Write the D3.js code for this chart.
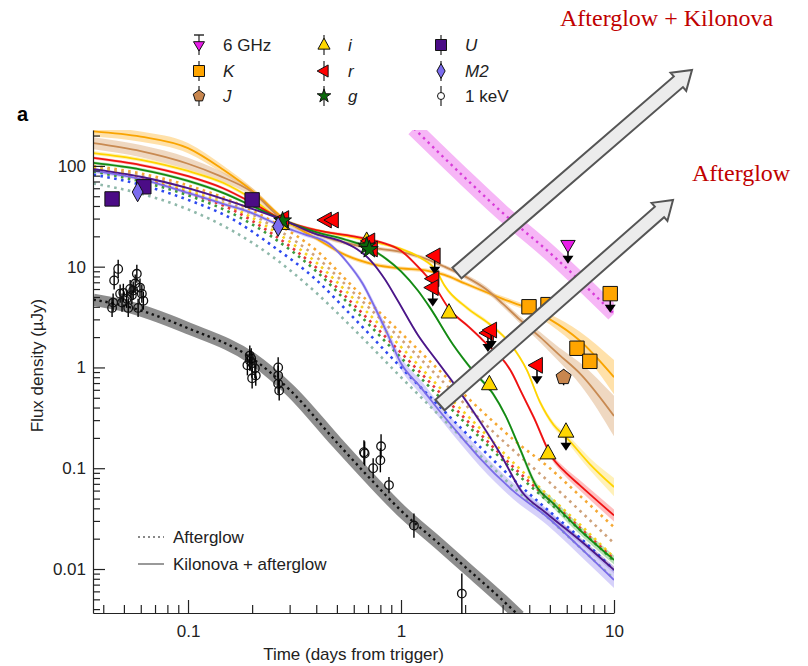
<!DOCTYPE html>
<html lang="en">
<head>
<meta charset="utf-8">
<title>Kilonova + afterglow light curves</title>
<script src="https://cdn.jsdelivr.net/npm/d3@7"></script>
<style>
  body { margin: 0; background: #fff; }
  svg { display: block; font-family: "Liberation Sans", Arial, Helvetica, sans-serif; }
  .axis path, .axis line { stroke: #222; stroke-width: 1.2px; }
  .axis text { font-size: 17px; fill: #222; font-family: "Liberation Sans", Arial, sans-serif; }
  .note { font-family: "Liberation Serif", "Times New Roman", serif; fill: #c00000; font-size: 24px; }
  .lg { font-size: 17px; fill: #222; }
</style>
</head>
<body>
<script>
// ---------- DATA ----------
// model curves: [time (days), flux (uJy), half band width (dex)]
const modelK = [[0.036,220,0.05],[0.06,195,0.05],[0.1,150,0.05],[0.146,92,0.04],[0.21,52,0.03],[0.28,30,0.02],[0.4,19,0.02],[0.55,13,0.02],[0.75,10.5,0.02],[1,9.6,0.02],[1.3,9.2,0.02],[1.6,8.3,0.02],[2,6.8,0.02],[2.5,5.6,0.02],[3,4.8,0.025],[3.9,3.9,0.03],[5,3.0,0.05],[6.9,1.85,0.09],[10,0.8,0.17]];
const modelJ = [[0.036,168,0.06],[0.06,140,0.06],[0.1,105,0.06],[0.14,80,0.05],[0.2,55,0.04],[0.28,29,0.03],[0.4,21,0.02],[0.6,16.5,0.02],[0.8,15,0.02],[1,14,0.02],[1.3,12,0.02],[1.6,10,0.02],[2,8,0.025],[2.5,6,0.03],[3,4.3,0.03],[3.6,3.0,0.035],[4.5,2.0,0.05],[5.5,1.35,0.07],[7,0.85,0.11],[10,0.33,0.2]];
const modelI = [[0.036,134,0.02],[0.06,115,0.02],[0.1,89,0.02],[0.146,68,0.02],[0.2,47,0.02],[0.28,28,0.02],[0.4,23,0.015],[0.6,19.5,0.015],[0.8,17,0.015],[1,15,0.015],[1.23,12.3,0.015],[1.47,9,0.02],[1.6,6.5,0.02],[2.04,3.9,0.02],[2.6,2.7,0.02],[3.25,1.73,0.02],[3.9,0.94,0.02],[4.5,0.45,0.025],[5.2,0.27,0.03],[6,0.2,0.04],[7.7,0.11,0.06],[10,0.065,0.09]];
const modelR = [[0.036,120,0.015],[0.06,102,0.015],[0.1,79,0.015],[0.146,60,0.015],[0.2,43,0.015],[0.28,29,0.015],[0.4,23,0.015],[0.6,20,0.015],[0.8,17.5,0.015],[1,14.4,0.015],[1.2,10,0.015],[1.41,6.8,0.015],[1.7,3.7,0.015],[2.05,2.6,0.015],[2.43,1.85,0.015],[3.3,0.9,0.02],[3.7,0.55,0.02],[4.2,0.32,0.025],[5.1,0.13,0.03],[5.8,0.095,0.04],[6.9,0.068,0.05],[10,0.034,0.06]];
const modelG = [[0.036,107,0.015],[0.06,92,0.015],[0.1,71,0.015],[0.146,54,0.015],[0.2,40,0.015],[0.28,29,0.015],[0.4,22,0.015],[0.55,18.5,0.015],[0.7,15.5,0.015],[0.85,12,0.015],[1,9,0.015],[1.2,5.8,0.015],[1.37,3.9,0.015],[1.75,1.7,0.015],[2.2,0.9,0.02],[2.7,0.55,0.02],[3.1,0.33,0.02],[3.6,0.16,0.03],[4.34,0.065,0.04],[5.17,0.045,0.045],[6.9,0.0245,0.045],[10,0.0123,0.045]];
const modelU = [[0.036,93,0.01],[0.06,78,0.01],[0.1,60,0.01],[0.146,47,0.01],[0.2,37.5,0.01],[0.28,29,0.01],[0.4,21,0.01],[0.52,18,0.01],[0.62,15,0.01],[0.72,11.5,0.01],[0.84,7.5,0.01],[0.96,4.7,0.01],[1.2,2.1,0.015],[1.47,1.17,0.015],[1.83,0.63,0.02],[2.35,0.29,0.02],[2.92,0.14,0.02],[3.7,0.058,0.025],[4.8,0.036,0.03],[6.9,0.0194,0.03],[10,0.0098,0.035]];
const modelM2 = [[0.036,89,0.02],[0.06,74,0.02],[0.1,54,0.02],[0.146,42,0.02],[0.2,34,0.02],[0.265,26,0.02],[0.35,21,0.02],[0.46,16.9,0.02],[0.56,11,0.02],[0.66,6.8,0.03],[0.76,3.8,0.04],[0.86,2.2,0.05],[1,1.1,0.06],[1.25,0.62,0.07],[1.5,0.38,0.07],[2,0.185,0.08],[2.35,0.125,0.08],[3.35,0.06,0.08],[4.84,0.033,0.08],[6.9,0.0165,0.08],[10,0.0078,0.08]];

// afterglow-only models (dotted), shared time grid
const aftTimes = [0.036, 0.06, 0.1, 0.16, 0.25, 0.4, 0.6, 1, 1.5, 2.3, 3.5, 5, 7, 10];
const aftK  = [100, 84, 64, 45, 28, 14.5, 6.2, 2.2, 0.95, 0.40, 0.18, 0.1, 0.052, 0.026];
const aftJ  = [97, 80, 60, 42, 25, 12.5, 5.5, 1.9, 0.8, 0.32, 0.14, 0.072, 0.037, 0.018];
const aftI  = [95, 77, 57, 39, 23, 11, 4.8, 1.6, 0.65, 0.26, 0.105, 0.052, 0.027, 0.013];
const aftR  = [92, 74, 54, 37, 21, 9.8, 4.2, 1.4, 0.58, 0.23, 0.095, 0.048, 0.025, 0.0125];
const aftG  = [88, 70, 51, 34, 19.5, 9, 3.8, 1.25, 0.52, 0.21, 0.088, 0.045, 0.024, 0.012];
const aftU  = [82, 65, 46, 30, 16, 7.4, 3.1, 1.0, 0.42, 0.17, 0.072, 0.037, 0.02, 0.0098];
const aftM2 = [67, 53, 37, 23, 12.5, 5.5, 2.4, 0.8, 0.34, 0.14, 0.06, 0.031, 0.016, 0.008];

// X-ray and radio afterglow models
const xrayModel  = [[0.036,4.7],[0.05,4.1],[0.1,2.45],[0.2,1.23],[0.3,0.6],[0.5,0.18],[0.7,0.083],[1,0.038],[1.5,0.018],[2,0.0105],[3,0.0049],[3.6,0.0034]];
const radioModel = [[1.15,235],[2,76],[2.92,36],[5,13.7],[10,3.4]];

// observations: [time, flux, error (dex), upper limit]
const obsRadio = [[6.08,16.5,0,true]];
const obsK  = [[3.99,4.0,0,false],[4.9,4.2,0,false],[6.7,1.55,0.07,false],[7.7,1.15,0.07,false],[9.6,5.4,0,true]];
const obsJ  = [[5.8,0.8,0.08,false]];
const obsI  = [[0.275,26.5,0.03,false],[0.69,18,0,false],[1.68,3.5,0,false],[2.6,0.68,0.06,false],[4.9,0.14,0,false],[5.95,0.23,0,true]];
const obsR  = [[0.28,30,0,false],[0.444,29,0,false],[0.479,29,0,false],[0.71,18,0,false],[0.73,15,0,false],[1.44,12.8,0,true],[1.42,7.6,0,false],[1.41,6.2,0,true],[2.56,2.2,0,true],[2.65,2.35,0,true],[4.35,1.05,0,true]];
const obsG  = [[0.278,28.5,0,false],[0.69,16,0,false],[0.71,14.8,0,false]];
const obsU  = [[0.044,47,0,false],[0.062,62,0.03,false],[0.2,46,0,false]];
const obsM2 = [[0.058,55,0,false],[0.265,25,0,false]];
const obsX  = [[0.044,3.9,0.09],[0.045,7.3,0.09],[0.047,9.5,0.09],[0.0445,4.4,0.09],[0.048,5.4,0.09],[0.049,4.4,0.09],[0.0497,5.5,0.09],[0.0515,4.8,0.09],[0.0524,3.9,0.09],[0.0535,6.0,0.09],[0.0545,5.2,0.09],[0.0553,5.8,0.09],[0.0565,6.8,0.09],[0.0575,8.5,0.09],[0.0583,3.9,0.09],[0.0595,6.2,0.09],[0.0607,5.4,0.09],[0.0617,4.6,0.09],
  [0.195,1.31,0.1],[0.198,1.23,0.1],[0.19,1.05,0.1],[0.2,1.1,0.1],[0.206,0.98,0.1],[0.2,0.78,0.1],[0.208,0.83,0.1],[0.195,1.17,0.1],
  [0.265,1.0,0.1],[0.265,0.83,0.1],[0.265,0.69,0.1],[0.268,0.59,0.1],
  [0.67,0.144,0.12],[0.675,0.14,0.12],[0.74,0.1,0.1],[0.806,0.165,0.12],[0.8,0.12,0.12],[0.878,0.068,0.08],[1.15,0.027,0.12],[1.93,0.0057,0.2]];

// ticks
const xMajor = [0.1, 1, 10];
const xTickLabels = ["0.1", "1", "10"];
const yMajor = [0.01, 0.1, 1, 10, 100];
const yTickLabels = ["0.01", "0.1", "1", "10", "100"];

// ---------- LAYOUT ----------
const W = 808, H = 666;
const plot = {left: 93, right: 614, top: 130, bottom: 613};

const svg = d3.select("body").append("svg").attr("width", W).attr("height", H);

const x = d3.scaleLog().domain([0.0358, 10]).range([plot.left, plot.right]);
const y = d3.scaleLog().domain([0.00366, 227]).range([plot.bottom, plot.top]);

svg.append("defs").append("clipPath").attr("id", "clip")
   .append("rect").attr("x", plot.left).attr("y", plot.top)
   .attr("width", plot.right - plot.left).attr("height", plot.bottom - plot.top);

const line = d3.line().x(d => x(d[0])).y(d => y(d[1])).curve(d3.curveMonotoneX);
const band = d3.area().x(d => x(d[0]))
               .y0(d => y(d[1] / Math.pow(10, d[2])))
               .y1(d => y(d[1] * Math.pow(10, d[2])))
               .curve(d3.curveMonotoneX);

const models = [
  {data: modelK,  line: "#f9a400", fill: "#ffc864"},
  {data: modelJ,  line: "#c88a52", fill: "#e2b88e"},
  {data: modelI,  line: "#ffd400", fill: "#ffe680"},
  {data: modelR,  line: "#ee1111", fill: "#ff8a8a"},
  {data: modelG,  line: "#138a13", fill: "#80c880"},
  {data: modelU,  line: "#4b1689", fill: "#a089c8"},
  {data: modelM2, line: "#7a6be8", fill: "#b4abf5"}
];
const afterglows = [
  {vals: aftK,  color: "#f5a832"},
  {vals: aftJ,  color: "#cfa27a"},
  {vals: aftI,  color: "#f7d21e"},
  {vals: aftR,  color: "#e8373a"},
  {vals: aftG,  color: "#3d9a3d"},
  {vals: aftU,  color: "#2d49f0"},
  {vals: aftM2, color: "#8fb8aa"}
];

const g = svg.append("g").attr("clip-path", "url(#clip)");

// radio band + dotted
g.append("path").attr("d", line(radioModel)).attr("fill", "none")
 .attr("stroke", "#f6b6f6").attr("stroke-width", 16);
g.append("path").attr("d", line(radioModel)).attr("fill", "none")
 .attr("stroke", "#d83cd8").attr("stroke-width", 2.4).attr("stroke-dasharray", "2.4 4");

// model bands
g.selectAll("path.band").data(models).join("path").attr("class", "band")
 .attr("d", d => band(d.data)).attr("fill", d => d.fill).attr("opacity", 0.55);

// afterglow dotted
g.selectAll("path.aft").data(afterglows).join("path").attr("class", "aft")
 .attr("d", d => line(aftTimes.map((t, i) => [t, d.vals[i]])))
 .attr("fill", "none").attr("stroke", d => d.color)
 .attr("stroke-width", 2.6).attr("stroke-dasharray", "2.6 4.4");

// model solid lines
g.selectAll("path.model").data(models).join("path").attr("class", "model")
 .attr("d", d => line(d.data)).attr("fill", "none")
 .attr("stroke", d => d.line).attr("stroke-width", 1.8);

// X-ray band + dotted
g.append("path").attr("d", line(xrayModel)).attr("fill", "none")
 .attr("stroke", "#8d8d8d").attr("stroke-width", 12);
g.append("path").attr("d", line(xrayModel)).attr("fill", "none")
 .attr("stroke", "#111").attr("stroke-width", 2.4).attr("stroke-dasharray", "2.4 3.6");

// ---------- AXES ----------
function decadeTicks(lo, hi) {
  const out = [];
  for (let k = -3; k <= 2; k++) for (let m = 1; m <= 9; m++) {
    const v = +(m * Math.pow(10, k)).toPrecision(6);
    if (v >= lo && v <= hi) out.push(v);
  }
  return out;
}
const isMajor = v => Math.abs(Math.log10(v) - Math.round(Math.log10(v))) < 1e-9;

const xAxis = d3.axisBottom(x).tickValues(decadeTicks(0.0358, 10))
  .tickSizeInner(-13).tickSizeOuter(0).tickPadding(12)
  .tickFormat(d => { const i = xMajor.indexOf(d); return i >= 0 ? xTickLabels[i] : ""; });
const gx = svg.append("g").attr("class", "axis").attr("transform", `translate(0,${plot.bottom})`).call(xAxis);
gx.selectAll(".tick line").attr("y2", d => isMajor(d) ? -13 : -8);

const yAxis = d3.axisLeft(y).tickValues(decadeTicks(0.00366, 227))
  .tickSizeInner(-12).tickSizeOuter(0).tickPadding(7)
  .tickFormat(d => { const i = yMajor.indexOf(d); return i >= 0 ? yTickLabels[i] : ""; });
const gy = svg.append("g").attr("class", "axis").attr("transform", `translate(${plot.left},0)`).call(yAxis);
gy.selectAll(".tick line").attr("x2", d => isMajor(d) ? 12 : 7);
gy.selectAll(".tick text").attr("x", -7);

svg.append("text").attr("class", "lg")
   .attr("transform", `translate(43,${(plot.top + plot.bottom) / 2 - 6}) rotate(-90)`)
   .attr("text-anchor", "middle").text("Flux density (µJy)");
svg.append("text").attr("class", "lg")
   .attr("x", (plot.left + plot.right) / 2).attr("y", 660)
   .attr("text-anchor", "middle").text("Time (days from trigger)");

svg.append("text").attr("x", 17).attr("y", 121).attr("font-weight", "bold")
   .attr("font-size", 20).text("a");

// ---------- MARKERS ----------
function shape(kind, s) {
  const p = d3.path();
  const poly = pts => { pts.forEach((q, i) => i ? p.lineTo(q[0], q[1]) : p.moveTo(q[0], q[1])); p.closePath(); };
  if (kind === "square") poly([[-s, -s], [s, -s], [s, s], [-s, s]]);
  else if (kind === "up") poly([[0, -s * 1.25], [s * 1.1, s * 0.75], [-s * 1.1, s * 0.75]]);
  else if (kind === "down") poly([[0, s * 1.1], [s * 1.0, -s * 0.6], [-s * 1.0, -s * 0.6]]);
  else if (kind === "left") poly([[-s * 1.25, 0], [s * 0.75, -s * 1.1], [s * 0.75, s * 1.1]]);
  else if (kind === "diamond") poly([[0, -s * 1.35], [s * 0.75, 0], [0, s * 1.35], [-s * 0.75, 0]]);
  else if (kind === "pentagon") poly(d3.range(5).map(i => { const a = -Math.PI / 2 + i * 2 * Math.PI / 5; return [s * 1.1 * Math.cos(a), s * 1.1 * Math.sin(a)]; }));
  else if (kind === "star") poly(d3.range(10).map(i => { const a = -Math.PI / 2 + i * Math.PI / 5, r = i % 2 ? s * 0.5 : s * 1.3; return [r * Math.cos(a), r * Math.sin(a)]; }));
  else if (kind === "circle") { p.arc(0, 0, s, 0, 2 * Math.PI); }
  return p.toString();
}

const bands = [
  {key: "6 GHz", obs: obsRadio, kind: "down",     fill: "#e81ce8", italic: false},
  {key: "K",     obs: obsK,     kind: "square",   fill: "#ffa500", italic: true},
  {key: "J",     obs: obsJ,     kind: "pentagon", fill: "#c8864e", italic: true},
  {key: "i",     obs: obsI,     kind: "up",       fill: "#ffd700", italic: true},
  {key: "r",     obs: obsR,     kind: "left",     fill: "#ff0000", italic: true},
  {key: "g",     obs: obsG,     kind: "star",     fill: "#0a6a0a", italic: true},
  {key: "U",     obs: obsU,     kind: "square",   fill: "#4b0c86", italic: true},
  {key: "M2",    obs: obsM2,    kind: "diamond",  fill: "#7b6cee", italic: true},
  {key: "1 keV", obs: obsX,     kind: "circle",   fill: "none",    italic: false}
];

const mk = svg.append("g");
function upperLimit(sel, px, py) {
  sel.append("line").attr("x1", px).attr("x2", px).attr("y1", py).attr("y2", py + 13)
     .attr("stroke", "#000").attr("stroke-width", 1.5);
  sel.append("path").attr("d", `M${px - 5.5},${py + 11}L${px + 5.5},${py + 11}L${px},${py + 19}Z`).attr("fill", "#000");
}
bands.forEach(b => {
  b.obs.forEach(o => {
    const px = x(o[0]), py = y(o[1]);
    if (o[2] > 0) mk.append("line").attr("x1", px).attr("x2", px)
        .attr("y1", y(o[1] * Math.pow(10, o[2]))).attr("y2", y(o[1] / Math.pow(10, o[2])))
        .attr("stroke", "#000").attr("stroke-width", 1.4);
    if (o[3]) upperLimit(mk, px, py);
    const size = b.kind === "circle" ? 4.3 : 7.2;
    mk.append("path").attr("d", shape(b.kind, size)).attr("transform", `translate(${px},${py})`)
      .attr("fill", b.fill).attr("stroke", "#111").attr("stroke-width", b.kind === "circle" ? 1.3 : 1);
  });
});

// ---------- LEGEND ----------
const legCols = [199, 324, 441], legRows = [45, 71, 96];
bands.forEach((b, i) => {
  const cx = legCols[Math.floor(i / 3)], cy = legRows[i % 3];
  const lg = svg.append("g");
  lg.append("line").attr("x1", cx).attr("x2", cx).attr("y1", cy - 10).attr("y2", cy + 10)
    .attr("stroke", "#222").attr("stroke-width", 1.2);
  if (b.kind === "down") lg.append("line").attr("x1", cx - 5).attr("x2", cx + 5).attr("y1", cy - 10).attr("y2", cy - 10)
    .attr("stroke", "#222").attr("stroke-width", 1.4);
  lg.append("path").attr("d", shape(b.kind, b.kind === "circle" ? 3.5 : 5.5))
    .attr("transform", `translate(${cx},${cy})`)
    .attr("fill", b.fill === "none" ? "#fff" : b.fill).attr("stroke", "#111").attr("stroke-width", 1);
  lg.append("text").attr("class", "lg").attr("x", cx + 24).attr("y", cy + 6)
    .attr("font-style", b.italic ? "italic" : "normal").text(b.key);
});

svg.append("line").attr("x1", 138).attr("x2", 164).attr("y1", 537).attr("y2", 537)
   .attr("stroke", "#888").attr("stroke-width", 2).attr("stroke-dasharray", "2 3");
svg.append("text").attr("class", "lg").attr("x", 173).attr("y", 543).text("Afterglow");
svg.append("line").attr("x1", 138).attr("x2", 164).attr("y1", 564).attr("y2", 564)
   .attr("stroke", "#555").attr("stroke-width", 1.2);
svg.append("text").attr("class", "lg").attr("x", 173).attr("y", 570).text("Kilonova + afterglow");

// ---------- ANNOTATIONS ----------
function blockArrow(x0, y0, x1, y1) {
  const dx = x1 - x0, dy = y1 - y0, L = Math.hypot(dx, dy);
  const ux = dx / L, uy = dy / L, nx = -uy, ny = ux;
  const hw = 7, hl = 18, hh = 12;
  const bx = x1 - ux * hl, by = y1 - uy * hl;
  const pts = [
    [x0 + nx * hw, y0 + ny * hw], [bx + nx * hw, by + ny * hw], [bx + nx * hh, by + ny * hh],
    [x1, y1],
    [bx - nx * hh, by - ny * hh], [bx - nx * hw, by - ny * hw], [x0 - nx * hw, y0 - ny * hw]
  ];
  svg.append("path").attr("d", "M" + pts.map(p => p.join(",")).join("L") + "Z")
     .attr("fill", "#ececec").attr("stroke", "#555").attr("stroke-width", 2);
}
blockArrow(457, 273, 692, 70);
blockArrow(440, 405, 673, 200);

svg.append("text").attr("class", "note").attr("x", 560).attr("y", 26).text("Afterglow + Kilonova");
svg.append("text").attr("class", "note").attr("x", 692).attr("y", 181).text("Afterglow");
</script>
</body>
</html>
